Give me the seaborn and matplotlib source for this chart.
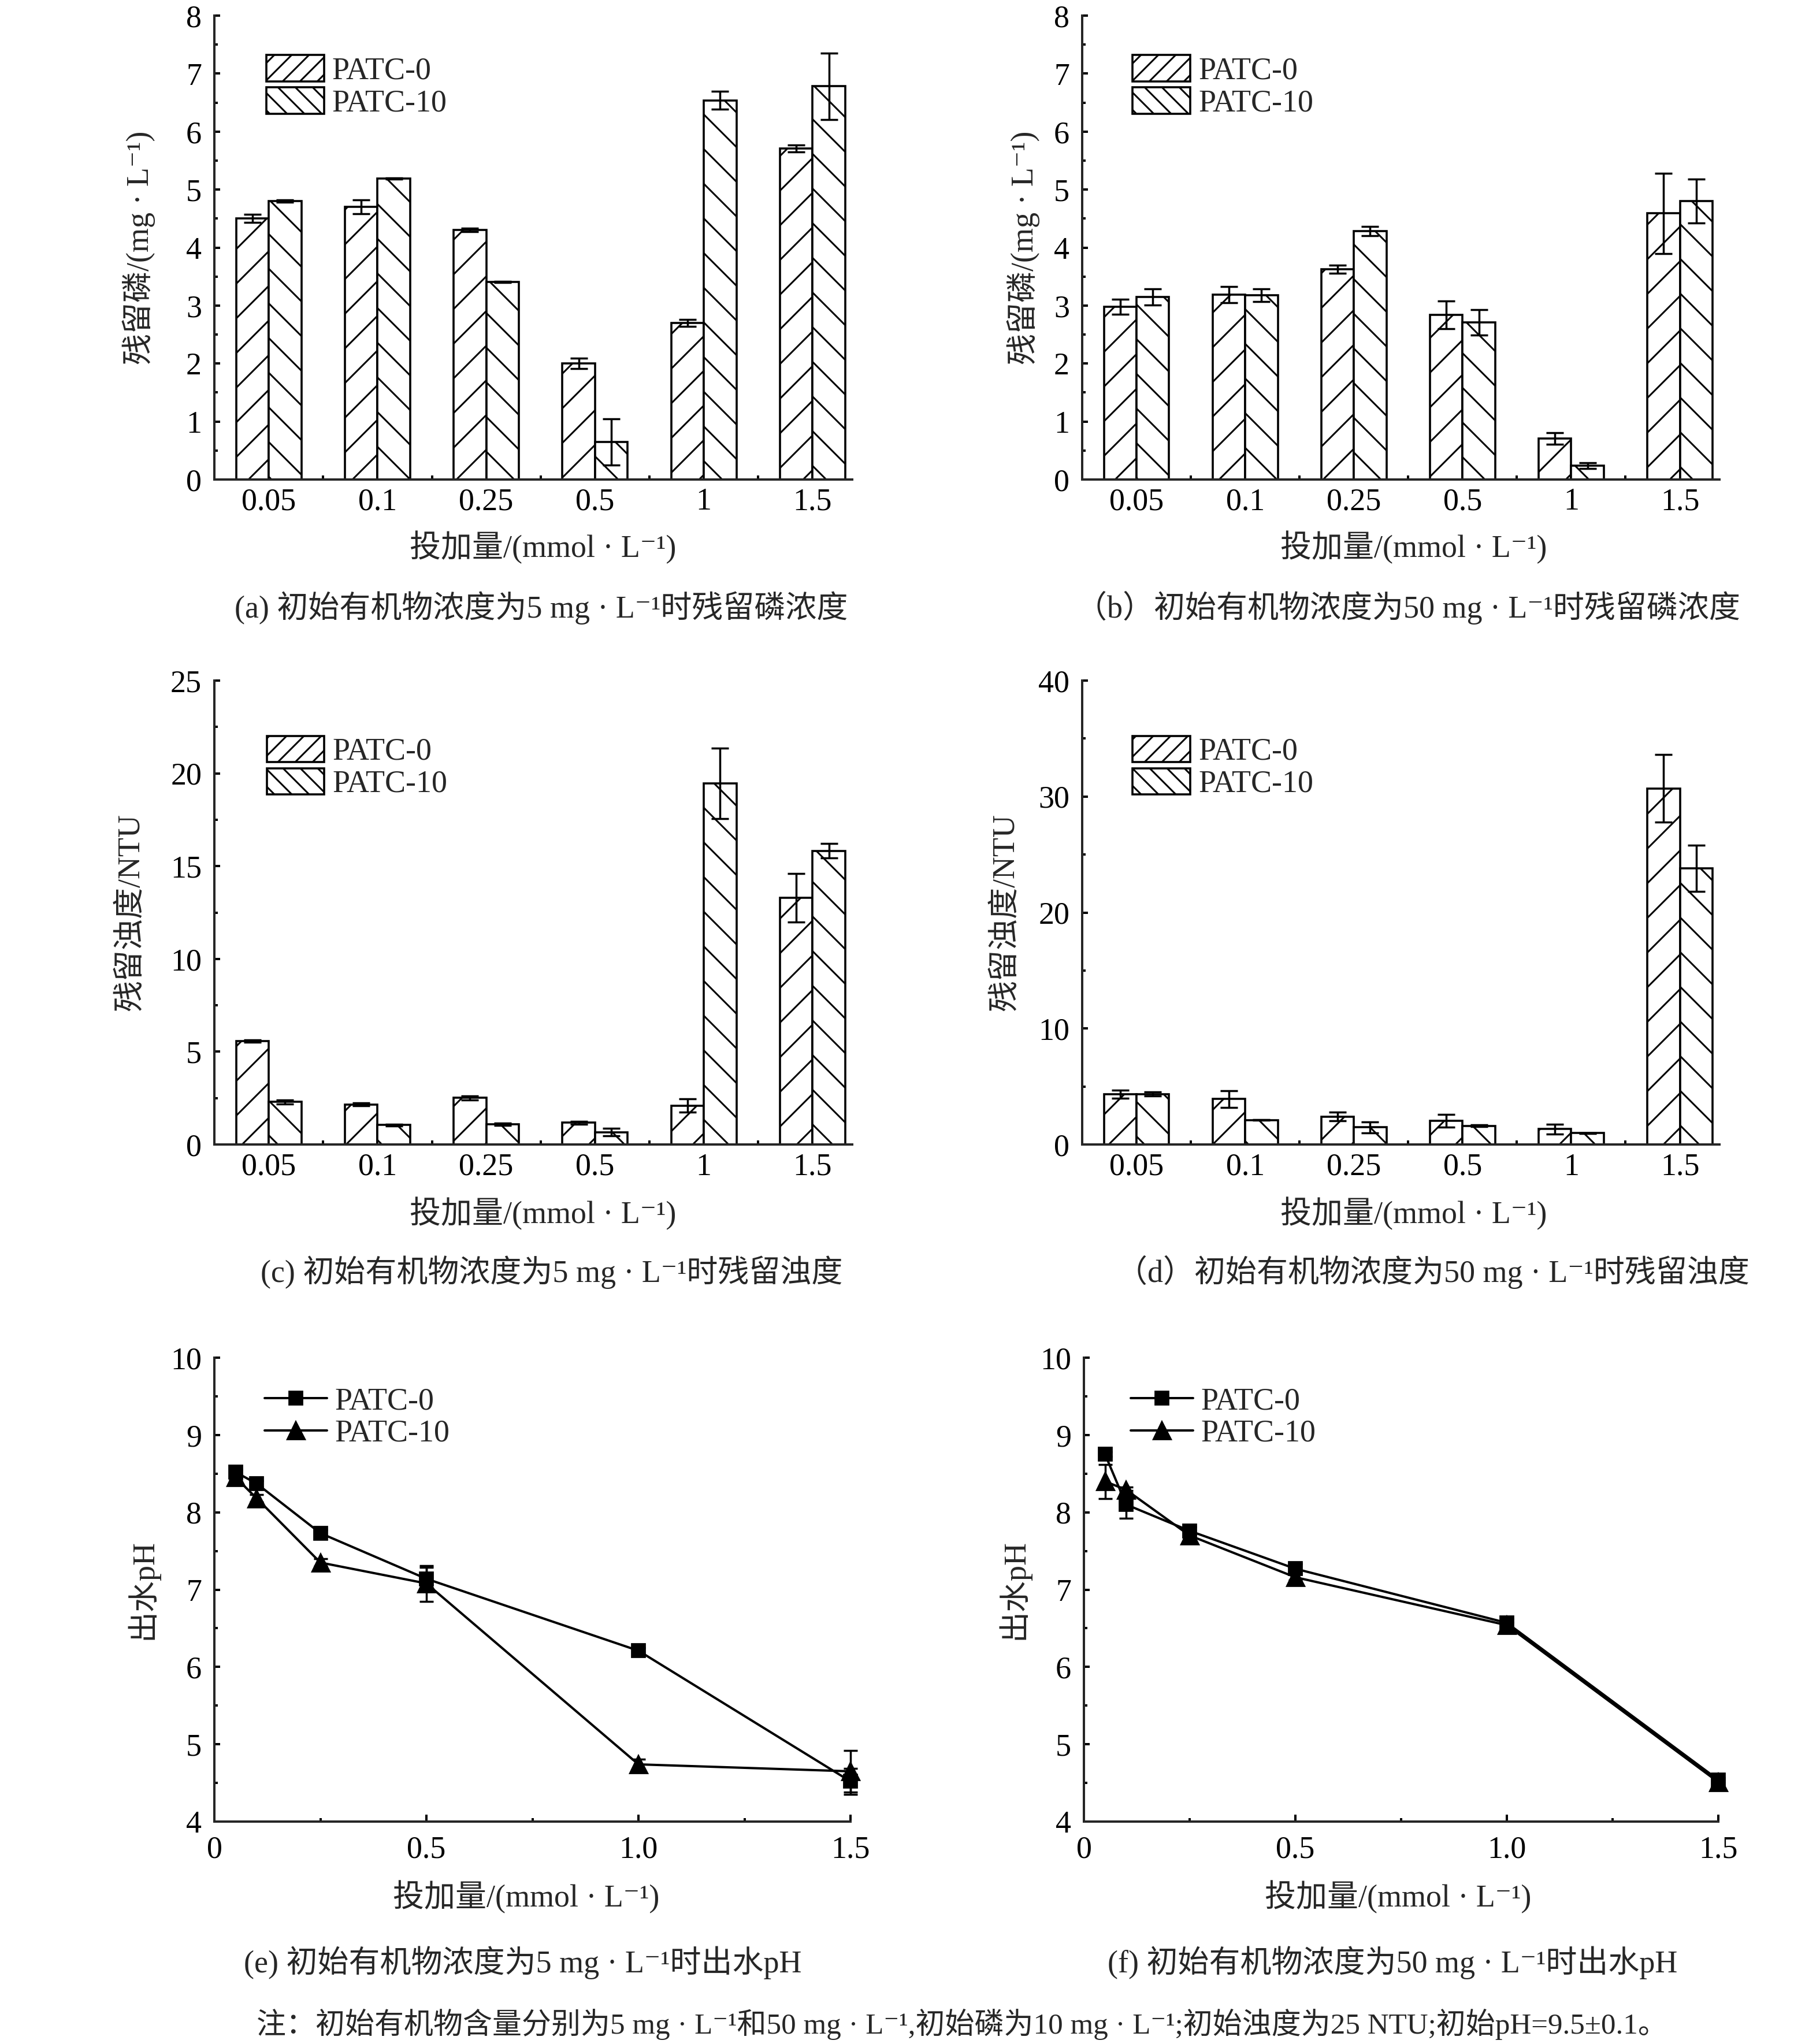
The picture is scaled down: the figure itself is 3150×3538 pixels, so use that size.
import matplotlib
matplotlib.use('Agg')
import matplotlib.pyplot as plt
from matplotlib.ticker import MultipleLocator
import pandas as pd
import seaborn as sns

DPI = 360
W, H = 3150, 3538


def px(n):
    # pixels -> points at the output dpi
    return n * 72.0 / DPI


FS = px(54)

doses = ['0.05', '0.1', '0.25', '0.5', '1', '1.5']
dose_values = [0.05, 0.1, 0.25, 0.5, 1.0, 1.5]
series_names = ['PATC-0', 'PATC-10']

# (a) residual P, organics 5 mg/L
p5_patc0 = [4.50, 4.70, 4.30, 2.00, 2.70, 5.71]
p5_patc0_err = [0.07, 0.12, 0.03, 0.09, 0.06, 0.06]
p5_patc10 = [4.80, 5.19, 3.41, 0.65, 6.54, 6.78]
p5_patc10_err = [0.02, 0.01, 0.01, 0.40, 0.15, 0.57]

# (b) residual P, organics 50 mg/L
p50_patc0 = [2.98, 3.19, 3.63, 2.84, 0.71, 4.59]
p50_patc0_err = [0.13, 0.14, 0.07, 0.24, 0.10, 0.69]
p50_patc10 = [3.15, 3.18, 4.28, 2.71, 0.24, 4.80]
p50_patc10_err = [0.14, 0.11, 0.08, 0.22, 0.05, 0.38]

# (c) residual turbidity, organics 5 mg/L
t5_patc0 = [5.57, 2.16, 2.51, 1.18, 2.10, 13.3]
t5_patc0_err = [0.05, 0.07, 0.12, 0.08, 0.35, 1.3]
t5_patc10 = [2.29, 1.05, 1.09, 0.66, 19.45, 15.83]
t5_patc10_err = [0.12, 0.04, 0.07, 0.20, 1.9, 0.4]

# (d) residual turbidity, organics 50 mg/L
t50_patc0 = [4.34, 3.92, 2.41, 2.03, 1.33, 30.7]
t50_patc0_err = [0.35, 0.72, 0.38, 0.55, 0.42, 2.9]
t50_patc10 = [4.34, 2.10, 1.47, 1.61, 0.98, 23.8]
t50_patc10_err = [0.18, 0.02, 0.45, 0.08, 0.03, 2.0]

# (e) effluent pH, organics 5 mg/L
ph5_patc0 = [8.52, 8.37, 7.73, 7.14, 6.21, 4.52]
ph5_patc0_err = [0.04, 0.04, 0.04, 0.15, 0.04, 0.17]
ph5_patc10 = [8.45, 8.18, 7.35, 7.08, 4.74, 4.65]
ph5_patc10_err = [0.03, 0.05, 0.05, 0.23, 0.07, 0.27]

# (f) effluent pH, organics 50 mg/L
ph50_patc0 = [8.75, 8.10, 7.76, 7.27, 6.57, 4.54]
ph50_patc0_err = [0.03, 0.18, 0.05, 0.06, 0.05, 0.03]
ph50_patc10 = [8.40, 8.29, 7.70, 7.16, 6.54, 4.51]
ph50_patc10_err = [0.22, 0.04, 0.04, 0.04, 0.04, 0.03]

ph_xticks = [0, 0.5, 1.0, 1.5]
ph_xticklabels = ['0', '0.5', '1.0', '1.5']

XLABEL = '投加量/(mmol · L⁻¹)'
NOTE = '注：初始有机物含量分别为5 mg · L⁻¹和50 mg · L⁻¹,初始磷为10 mg · L⁻¹;初始浊度为25 NTU;初始pH=9.5±0.1。'

sns.set_theme(style='ticks')
plt.rcParams['font.family'] = ['Liberation Serif', 'Noto Sans CJK SC', 'DejaVu Serif']
plt.rcParams['axes.linewidth'] = px(4)
plt.rcParams['hatch.linewidth'] = px(3)
plt.rcParams['axes.unicode_minus'] = False


def rect(l, t, r, b):
    return [l / W, 1 - b / H, (r - l) / W, (b - t) / H]


def style_axes(ax, ylabel, ylab_x, xlab_xy, xpad):
    sns.despine(ax=ax)
    ax.tick_params(axis='both', which='both', direction='in', width=px(4), colors='black', labelsize=FS)
    ax.tick_params(axis='y', which='major', length=px(10), pad=px(22))
    ax.tick_params(axis='y', which='minor', length=px(6))
    ax.tick_params(axis='x', which='major', pad=px(xpad))
    ax.set_ylabel(ylabel, fontsize=FS)
    ax.yaxis.set_label_coords(ylab_x, 0.5)
    ax.yaxis.label.set_verticalalignment('center')
    ax.set_xlabel(XLABEL, fontsize=FS)
    ax.xaxis.set_label_coords(*xlab_xy)
    ax.xaxis.label.set_verticalalignment('center')
    ax.grid(False)
    for lab in ax.get_xticklabels() + ax.get_yticklabels():
        lab.set_fontsize(FS)


def bar_panel(ax, vals0, err0, vals1, err1, ymax, ystep, yminor, leg_xy):
    df = pd.DataFrame({
        'dose': doses * 2,
        'series': [series_names[0]] * len(doses) + [series_names[1]] * len(doses),
        'value': vals0 + vals1,
    })
    sns.barplot(data=df, x='dose', y='value', hue='series', order=doses, hue_order=series_names,
                palette=['white', 'white'], saturation=1, width=0.6, errorbar=None,
                edgecolor='black', linewidth=px(3.6), legend=False, ax=ax)
    bars = list(ax.containers[:2])
    for cont, hatch, errs in zip(bars, ['//', '\\\\'], [err0, err1]):
        xs, ys = [], []
        for bar in cont:
            bar.set_hatch(hatch)
            xs.append(bar.get_x() + bar.get_width() / 2)
            ys.append(bar.get_height())
        ax.errorbar(xs, ys, yerr=errs, fmt='none', ecolor='black', elinewidth=px(3.5),
                    capsize=px(15), capthick=px(3.5), zorder=5)
    ax.set_xlim(-0.5, 5.364)
    ax.set_ylim(0, ymax)
    ax.yaxis.set_major_locator(MultipleLocator(ystep))
    ax.yaxis.set_minor_locator(MultipleLocator(yminor))
    ax.set_xticks(range(len(doses)), labels=doses)
    ax.set_xticks([i + 0.5 for i in range(len(doses) - 1)], minor=True)
    ax.tick_params(axis='x', which='major', length=0)
    ax.tick_params(axis='x', which='minor', length=px(7))
    leg = ax.legend([bars[0][0], bars[1][0]], series_names, loc='upper left', bbox_to_anchor=leg_xy,
                    frameon=False, borderpad=0, borderaxespad=0, handlelength=1.85, handleheight=0.92,
                    handletextpad=0.26, labelspacing=0.05, fontsize=FS)
    for h in leg.legend_handles:
        h.set_hatch(h.get_hatch() * 2)


def line_panel(ax, vals0, err0, vals1, err1, leg_xy):
    handles = []
    for name, vals, errs, marker, ms in [(series_names[0], vals0, err0, 's', px(23)),
                                         (series_names[1], vals1, err1, '^', px(29))]:
        df = pd.DataFrame({'dose': dose_values, 'pH': vals})
        sns.lineplot(data=df, x='dose', y='pH', color='black', marker=marker, markersize=ms,
                     markeredgecolor='black', linewidth=px(4), label=name, clip_on=False, ax=ax)
        handles.append(ax.lines[-1])
        ax.errorbar(dose_values, vals, yerr=errs, fmt='none', ecolor='black', elinewidth=px(3.5),
                    capsize=px(12), capthick=px(3.5), zorder=5, clip_on=False)
    ax.set_xlim(0, 1.5)
    ax.set_ylim(4, 10)
    ax.set_xticks(ph_xticks, labels=ph_xticklabels)
    ax.xaxis.set_minor_locator(MultipleLocator(0.25))
    ax.yaxis.set_major_locator(MultipleLocator(1))
    ax.yaxis.set_minor_locator(MultipleLocator(0.5))
    ax.tick_params(axis='x', which='major', length=px(12))
    ax.tick_params(axis='x', which='minor', length=px(6))
    ax.legend(handles, series_names, loc='upper left', bbox_to_anchor=leg_xy, frameon=False,
              borderpad=0, borderaxespad=0, handlelength=2.0, handletextpad=0.24,
              labelspacing=0.1, numpoints=1, fontsize=FS)


fig = plt.figure(figsize=(W / DPI, H / DPI), dpi=DPI)
fig.patch.set_facecolor('white')

ax_a = fig.add_axes(rect(371, 27, 1475, 830))
ax_b = fig.add_axes(rect(1873, 27, 2976, 830))
ax_c = fig.add_axes(rect(371, 1178, 1475, 1981))
ax_d = fig.add_axes(rect(1873, 1178, 2976, 1981))
ax_e = fig.add_axes(rect(371, 2350, 1472, 3153))
ax_f = fig.add_axes(rect(1876, 2350, 2974, 3153))

bar_panel(ax_a, p5_patc0, p5_patc0_err, p5_patc10, p5_patc10_err, 8, 1, 0.5, (0.0815, 0.915))
style_axes(ax_a, '残留磷/(mg · L⁻¹)', -0.118, (0.515, -0.146), 14)
bar_panel(ax_b, p50_patc0, p50_patc0_err, p50_patc10, p50_patc10_err, 8, 1, 0.5, (0.079, 0.915))
style_axes(ax_b, '残留磷/(mg · L⁻¹)', -0.0925, (0.52, -0.146), 14)
bar_panel(ax_c, t5_patc0, t5_patc0_err, t5_patc10, t5_patc10_err, 25, 5, 2.5, (0.082, 0.881))
style_axes(ax_c, '残留浊度/NTU', -0.131, (0.515, -0.149), 14)
bar_panel(ax_d, t50_patc0, t50_patc0_err, t50_patc10, t50_patc10_err, 40, 10, 5, (0.079, 0.881))
style_axes(ax_d, '残留浊度/NTU', -0.120, (0.52, -0.149), 14)
line_panel(ax_e, ph5_patc0, ph5_patc0_err, ph5_patc10, ph5_patc10_err, (0.079, 0.937))
style_axes(ax_e, '出水pH', -0.1135, (0.49, -0.162), 24)
line_panel(ax_f, ph50_patc0, ph50_patc0_err, ph50_patc10, ph50_patc10_err, (0.074, 0.937))
style_axes(ax_f, '出水pH', -0.111, (0.495, -0.162), 24)

captions = [
    ('(a) 初始有机物浓度为5 mg · L⁻¹时残留磷浓度', 937, 1052, FS),
    ('（b）初始有机物浓度为50 mg · L⁻¹时残留磷浓度', 2437, 1052, FS),
    ('(c) 初始有机物浓度为5 mg · L⁻¹时残留浊度', 955, 2202, FS),
    ('（d）初始有机物浓度为50 mg · L⁻¹时残留浊度', 2480, 2202, FS),
    ('(e) 初始有机物浓度为5 mg · L⁻¹时出水pH', 905, 3397, FS),
    ('(f) 初始有机物浓度为50 mg · L⁻¹时出水pH', 2410, 3397, FS),
    (NOTE, 1665, 3504, px(51)),
]
for text, x, y, size in captions:
    fig.text(x / W, 1 - y / H, text, ha='center', va='center', fontsize=size)

fig.savefig('out.png', dpi=DPI, facecolor='white')
